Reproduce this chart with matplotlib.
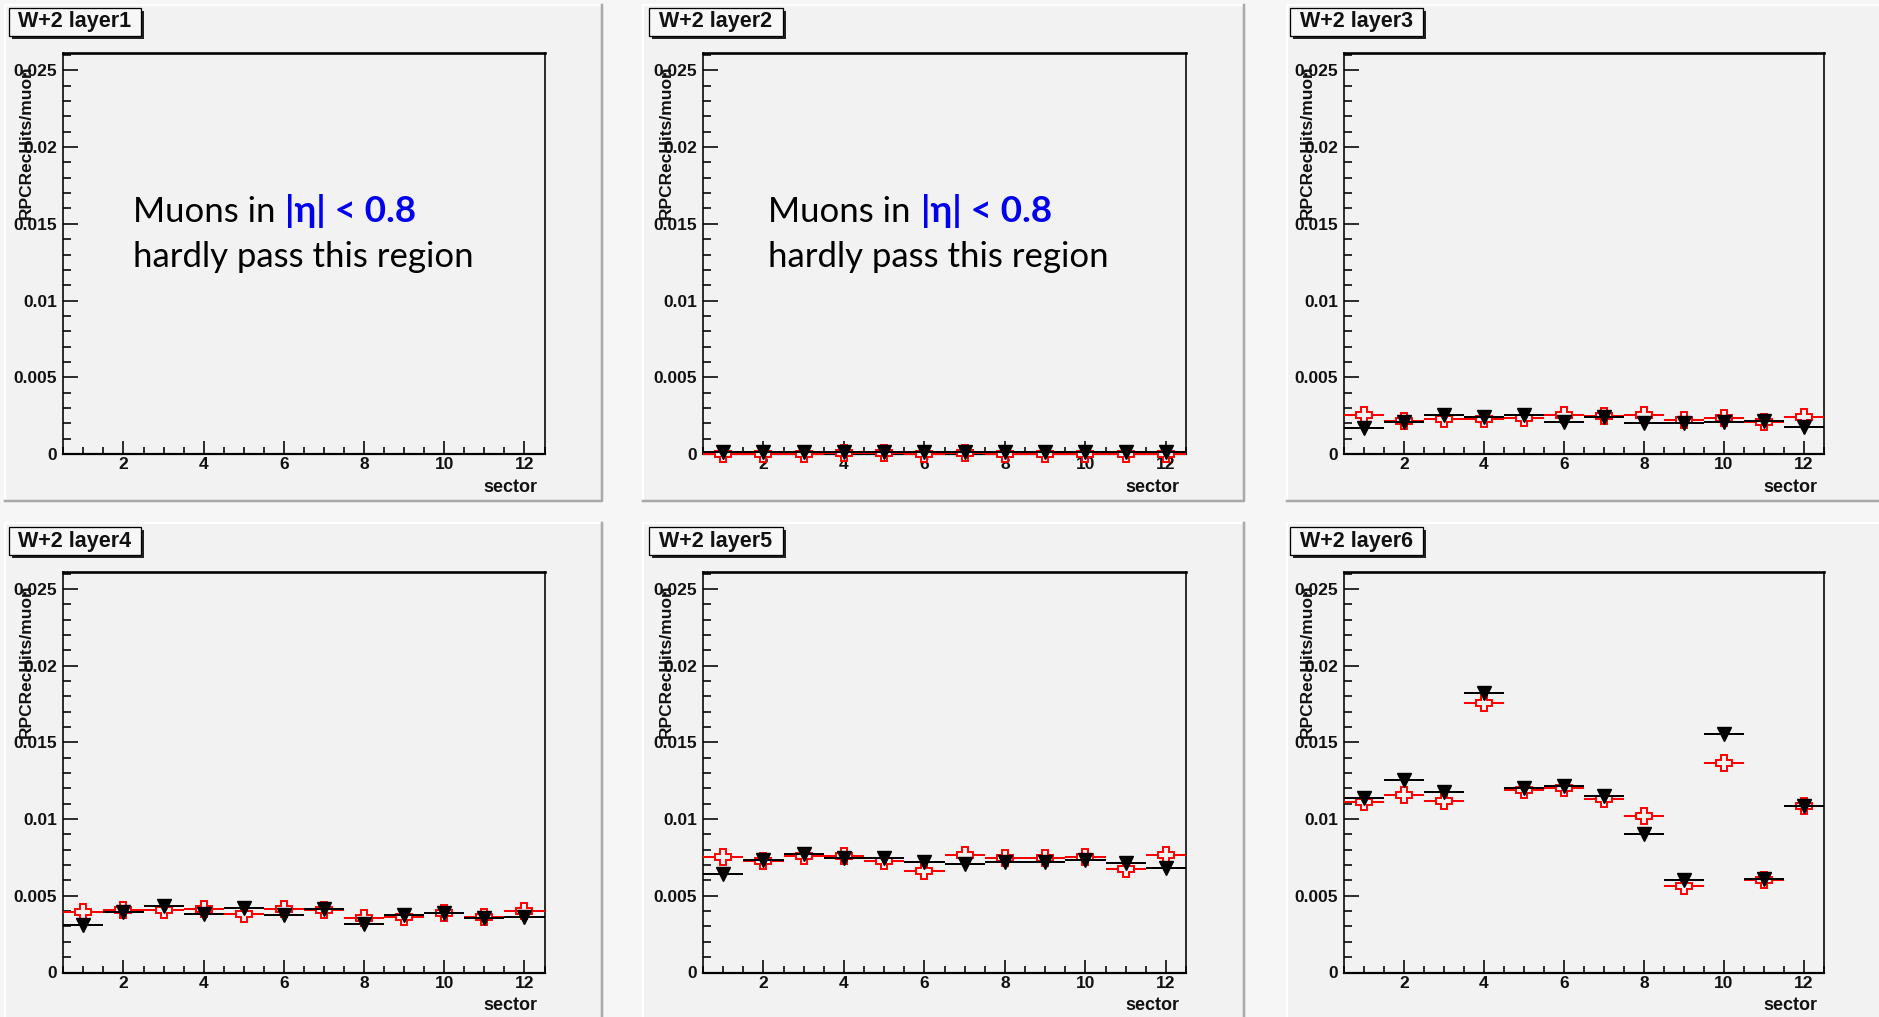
import matplotlib
matplotlib.use("Agg")
import matplotlib.pyplot as plt
from matplotlib.patches import Rectangle
from matplotlib.lines import Line2D
from matplotlib.ticker import MultipleLocator, FixedLocator

# ---- data: RPC rec hits per muon, per sector, wheel +2 ----
sectors = [1, 2, 3, 4, 5, 6, 7, 8, 9, 10, 11, 12]
panel_titles = ["W+2 layer1", "W+2 layer2", "W+2 layer3",
                "W+2 layer4", "W+2 layer5", "W+2 layer6"]

# black filled triangles
black_layer1 = []
black_layer2 = [0.00012, 0.00012, 0.00012, 0.00012, 0.00010, 0.00012,
                0.00010, 0.00012, 0.00012, 0.00012, 0.00012, 0.00012]
black_layer3 = [0.00171, 0.00210, 0.00254, 0.00243, 0.00256, 0.00208,
                0.00243, 0.00200, 0.00200, 0.00208, 0.00213, 0.00178]
black_layer4 = [0.00312, 0.00395, 0.00432, 0.00384, 0.00423, 0.00373,
                0.00412, 0.00319, 0.00373, 0.00388, 0.00352, 0.00362]
black_layer5 = [0.00640, 0.00731, 0.00775, 0.00746, 0.00744, 0.00723,
                0.00705, 0.00718, 0.00718, 0.00736, 0.00714, 0.00681]
black_layer6 = [0.01137, 0.01257, 0.01174, 0.01819, 0.01202, 0.01215,
                0.01152, 0.00905, 0.00601, 0.01556, 0.00610, 0.01085]

# red open crosses
red_layer1 = []
red_layer2 = [0.00002, 0.00002, 0.00002, 0.00005, 0.00004, 0.00002,
              0.00005, 0.00002, 0.00002, 0.00002, 0.00002, 0.00002]
red_layer3 = [0.00252, 0.00217, 0.00230, 0.00226, 0.00237, 0.00256,
              0.00247, 0.00252, 0.00221, 0.00232, 0.00208, 0.00243]
red_layer4 = [0.00395, 0.00406, 0.00410, 0.00415, 0.00384, 0.00415,
              0.00410, 0.00352, 0.00362, 0.00391, 0.00362, 0.00401]
red_layer5 = [0.00755, 0.00727, 0.00757, 0.00757, 0.00727, 0.00662,
              0.00768, 0.00744, 0.00744, 0.00753, 0.00673, 0.00764]
red_layer6 = [0.01111, 0.01159, 0.01115, 0.01758, 0.01191, 0.01202,
              0.01128, 0.01018, 0.00564, 0.01367, 0.00605, 0.01083]

black_yerr = [0.0, 0.0001, 0.00015, 0.0002, 0.00025, 0.0004]
red_yerr = [0.0, 0.00005, 0.0001, 0.00012, 0.00015, 0.0002]

black_series = [black_layer1, black_layer2, black_layer3,
                black_layer4, black_layer5, black_layer6]
red_series = [red_layer1, red_layer2, red_layer3,
              red_layer4, red_layer5, red_layer6]

y_ticks = [0, 0.005, 0.01, 0.015, 0.02, 0.025]
y_tick_labels = ["0", "0.005", "0.01", "0.015", "0.02", "0.025"]
x_ticks = [2, 4, 6, 8, 10, 12]
y_title = "RPCRecHits/muon"
x_title = "sector"
note_line1 = "Muons in "
note_blue = "|\u03b7| < 0.8"
note_line2 = "hardly pass this region"

# ---- layout (pixel geometry of the canvas) ----
W, H = 1879, 1017
DPI = 100
PAD_BG = "#f2f2f2"
CANVAS_BG = "#f6f6f6"
HELV = ["Liberation Sans", "DejaVu Sans"]
NOTE_FONT = ["Lato", "DejaVu Sans"]

fig = plt.figure(figsize=(W / DPI, H / DPI), dpi=DPI, facecolor=CANVAS_BG)


def fig_rect(x0, y0, x1, y1):
    return [x0 / W, 1 - y1 / H, (x1 - x0) / W, (y1 - y0) / H]


col_pads = [(4.5, 602), (643, 1244), (1287, 1885)]
row_pads = [(4.5, 501), (523, 1023)]
col_axes = [(63.3, 544.5), (703, 1186), (1344, 1824)]
row_axes = [(53.5, 454), (572, 972.5)]
col_boxes = [(8.7, 141), (648.7, 783), (1289.5, 1423)]
row_boxes = [(8, 36), (527, 555)]

px = 72.0 / DPI  # points per pixel

for idx in range(6):
    r, c = divmod(idx, 3)
    # pad with bevelled border
    px0, px1 = col_pads[c]
    py0, py1 = row_pads[r]
    fig.patches.append(Rectangle((px0 / W, 1 - py1 / H), (px1 - px0) / W,
                                 (py1 - py0) / H, transform=fig.transFigure,
                                 facecolor=PAD_BG, edgecolor="none", zorder=-2))
    fig.lines.append(Line2D([px0 / W, px0 / W, px1 / W], [1 - py1 / H, 1 - py0 / H, 1 - py0 / H],
                            transform=fig.transFigure, color="white", lw=2 * px, zorder=-1))
    fig.lines.append(Line2D([px0 / W, px1 / W, px1 / W], [1 - py1 / H, 1 - py1 / H, 1 - py0 / H],
                            transform=fig.transFigure, color="#a9a9a9", lw=2.5 * px, zorder=-1))

    ax0, ax1 = col_axes[c]
    ay0, ay1 = row_axes[r]
    ax = fig.add_axes(fig_rect(ax0, ay0, ax1, ay1))
    ax.set_zorder(1)
    ax.set_facecolor(PAD_BG)
    ax.set_xlim(0.5, 12.5)
    ax.set_ylim(0, 0.0261)

    for side, lw in (("top", 2.6), ("bottom", 2.2), ("left", 1.6), ("right", 1.6)):
        ax.spines[side].set_linewidth(lw * px)
        ax.spines[side].set_color("black")

    ax.yaxis.set_major_locator(FixedLocator(y_ticks))
    ax.set_yticklabels(y_tick_labels)
    ax.yaxis.set_minor_locator(MultipleLocator(0.001))
    ax.xaxis.set_major_locator(FixedLocator(x_ticks))
    ax.set_xticklabels([str(t) for t in x_ticks])
    ax.xaxis.set_minor_locator(MultipleLocator(0.5))
    ax.tick_params(axis="y", which="major", direction="in", length=14.5 * px,
                   width=1.6 * px, pad=6 * px)
    ax.tick_params(axis="y", which="minor", direction="in", length=8 * px, width=1.6 * px)
    ax.tick_params(axis="x", which="major", direction="in", length=13 * px,
                   width=1.6 * px, pad=3 * px)
    ax.tick_params(axis="x", which="minor", direction="in", length=7 * px, width=1.6 * px)
    for lab in ax.get_xticklabels() + ax.get_yticklabels():
        lab.set_fontfamily(HELV)
        lab.set_fontweight("bold")
        lab.set_fontsize(12.5)
        lab.set_color("#111111")

    # axis titles
    ax.text(-37 / (ax1 - ax0), 1 - 12 / (ay1 - ay0), y_title, transform=ax.transAxes,
            rotation=90, ha="center", va="top", family=HELV, fontweight="bold",
            fontsize=12.5, color="#111111")
    ax.text(1 - 7 / (ax1 - ax0), -38 / (ay1 - ay0), x_title, transform=ax.transAxes,
            ha="right", va="baseline", family=HELV, fontweight="bold",
            fontsize=13, color="#111111")

    # data
    red = red_series[idx]
    blk = black_series[idx]
    if red:
        ax.errorbar(sectors, red, xerr=0.5, yerr=red_yerr[idx], fmt="P",
                    color="#ff0000", ecolor="#ff0000", elinewidth=2 * px,
                    markersize=11, markerfacecolor=PAD_BG,
                    markeredgecolor="#ff0000", markeredgewidth=1.4,
                    capsize=0, clip_on=False, zorder=3)
    if blk:
        ax.errorbar(sectors, blk, xerr=0.5, yerr=black_yerr[idx], fmt="v",
                    color="black", ecolor="black", elinewidth=2 * px,
                    markersize=10.5, markerfacecolor="black",
                    markeredgecolor="black", capsize=0, clip_on=False, zorder=4)

    # title box with shadow
    bx0, bx1 = col_boxes[c]
    by0, by1 = row_boxes[r]
    fig.patches.append(Rectangle(((bx0 + 3) / W, 1 - (by1 + 3) / H), (bx1 - bx0) / W,
                                 (by1 - by0) / H, transform=fig.transFigure,
                                 facecolor="#222222", edgecolor="none", zorder=5))
    fig.patches.append(Rectangle((bx0 / W, 1 - by1 / H), (bx1 - bx0) / W,
                                 (by1 - by0) / H, transform=fig.transFigure,
                                 facecolor="#f7f7f7", edgecolor="black",
                                 lw=1.3 * px, zorder=6))
    fig.text((bx0 + bx1) / 2 / W, 1 - (by0 + by1) / 2 / H, panel_titles[idx],
             ha="center", va="center", family=HELV, fontweight="bold",
             fontsize=15.5, color="#111111", zorder=7)

# annotation on the two layers muons barely reach
fig.canvas.draw()
renderer = fig.canvas.get_renderer()
for x_start in (133, 768.5):
    t1 = fig.text(x_start / W, 1 - 222 / H, note_line1, family=NOTE_FONT,
                  fontsize=25, ha="left", va="baseline", color="black", zorder=8)
    bb = t1.get_window_extent(renderer)
    fig.text((bb.x1 + 1) / W, 1 - 222 / H, note_blue, family=NOTE_FONT,
             fontsize=26.5, fontweight="bold", ha="left", va="baseline",
             color="#0000ee", zorder=8)
    fig.text(x_start / W, 1 - 267 / H, note_line2, family=NOTE_FONT,
             fontsize=25, ha="left", va="baseline", color="black", zorder=8)

fig.savefig("out.png", dpi=DPI, facecolor=CANVAS_BG)
